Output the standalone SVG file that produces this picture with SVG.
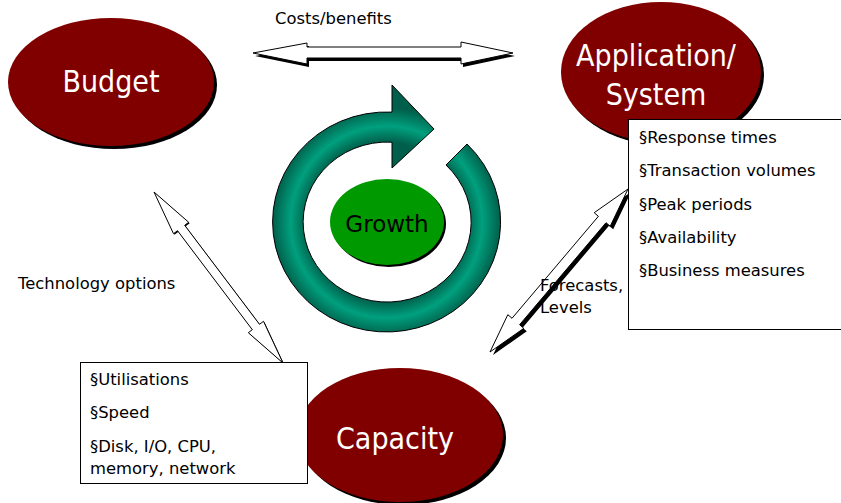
<svg xmlns="http://www.w3.org/2000/svg" width="841" height="503" viewBox="0 0 841 503">
<style>
.lbl{font-family:"DejaVu Sans",sans-serif;font-size:16.4px;fill:#000}
.big{font-family:"DejaVu Sans Condensed","DejaVu Sans",sans-serif;font-size:30px;fill:#fff;text-anchor:middle}
.node{fill:#800000}
.shadow{fill:#000}
.box{fill:#fff;stroke:#000;stroke-width:1}
.arrow{fill:#fff;stroke:#000;stroke-width:1;stroke-linejoin:miter}
</style>
<defs>
<radialGradient id="ring" gradientUnits="userSpaceOnUse" cx="386.5" cy="222" r="114">
<stop offset="0.70" stop-color="#005f4b"/>
<stop offset="0.84" stop-color="#00a07e"/>
<stop offset="1" stop-color="#005f4b"/>
</radialGradient>
</defs>
<rect width="841" height="503" fill="#fff"/>

<g id="connectors">
<g id="costs-benefits">
<polygon class="shadow" transform="translate(2,3)" points="253,53 307,43 307,47 461,47 461,42 513,53 461,64 461,58 307,58 307,64"/>
<polygon class="arrow" points="253,53 307,43 307,47 461,47 461,42 513,53 461,64 461,58 307,58 307,64"/>
</g>
<g id="technology-options">
<polygon class="shadow" transform="translate(1,1)" points="154,192 173.5,233.7 177.5,230.7 252.3,329.7 248.3,332.7 283,363 263.5,321.3 259.5,324.3 184.7,225.3 188.7,222.3"/>
<polygon class="arrow" points="154,192 173.5,233.7 177.5,230.7 252.3,329.7 248.3,332.7 283,363 263.5,321.3 259.5,324.3 184.7,225.3 188.7,222.3"/>
</g>
<g id="forecasts-levels">
<polygon class="shadow" transform="translate(3,3)" points="628,189 594.2,212.7 598.4,216.3 512,318.3 507.8,314.7 490,352 523.8,328.3 519.6,324.7 606,222.7 610.2,226.3"/>
<polygon class="arrow" points="628,189 594.2,212.7 598.4,216.3 512,318.3 507.8,314.7 490,352 523.8,328.3 519.6,324.7 606,222.7 610.2,226.3"/>
</g>
</g>

<text class="lbl" x="275" y="24">Costs/benefits</text>
<text class="lbl" x="18" y="289">Technology options</text>

<g id="growth-cycle">
<path d="M467,144 A114,110 0 1 1 392,112.1 L392,85 L434,129 L392,168 L392,142.2 A84,80 0 1 0 446,165 Z" fill="url(#ring)" stroke="#000" stroke-width="1"/>
</g>

<g id="growth">
<ellipse class="shadow" cx="389" cy="224" rx="57" ry="43"/>
<ellipse cx="387" cy="222" rx="57" ry="43" fill="#009900"/>
<text x="387" y="232" font-family="DejaVu Sans, sans-serif" font-size="23" text-anchor="middle" fill="#000">Growth</text>
</g>

<g id="budget">
<ellipse class="shadow" cx="114" cy="85" rx="103" ry="64"/>
<ellipse class="node" cx="111" cy="82" rx="103" ry="64"/>
<text class="big" x="111" y="92">Budget</text>
</g>

<g id="application">
<ellipse class="shadow" cx="664" cy="75" rx="100" ry="70"/>
<ellipse class="node" cx="661" cy="72" rx="100" ry="70"/>
<text class="big" x="656" y="66" font-size="31">Application/</text>
<text class="big" x="656" y="105" font-size="31">System</text>
</g>

<g id="capacity">
<ellipse class="shadow" cx="403" cy="438" rx="103" ry="67"/>
<ellipse class="node" cx="400" cy="435" rx="103" ry="67"/>
<text class="big" x="395" y="449">Capacity</text>
</g>

<g id="app-box">
<rect class="box" x="628.5" y="119.5" width="220" height="210"/>
<text class="lbl" x="639" y="143">§Response times</text>
<text class="lbl" x="639" y="176">§Transaction volumes</text>
<text class="lbl" x="639" y="210">§Peak periods</text>
<text class="lbl" x="639" y="243">§Availability</text>
<text class="lbl" x="639" y="276">§Business measures</text>
</g>

<g id="capacity-box">
<rect class="box" x="80.5" y="362.5" width="227" height="121"/>
<text class="lbl" x="90" y="385">§Utilisations</text>
<text class="lbl" x="90" y="418">§Speed</text>
<text class="lbl" x="90" y="452">§Disk, I/O, CPU,</text>
<text class="lbl" x="90" y="474">memory, network</text>
</g>

<text class="lbl" x="540" y="291">Forecasts,</text>
<text class="lbl" x="540" y="313">Levels</text>
</svg>
